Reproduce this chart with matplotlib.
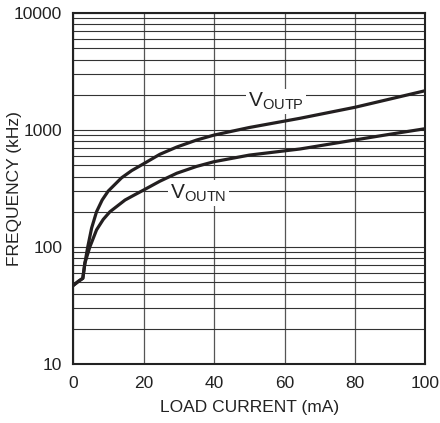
import matplotlib
matplotlib.use("Agg")
import matplotlib.pyplot as plt
from matplotlib.ticker import LogLocator, NullFormatter

# load current (mA) vs oscillator frequency (kHz)
ioutp = [0, 1.5, 2.7, 3.3, 4.1, 5.2, 6.6, 8.2, 9.9, 13.7, 16.6, 20, 24.6,
         29.4, 35, 40, 50, 64.4, 80, 90, 100]
foutp = [47, 51, 54, 73, 100, 145, 200, 252, 300, 390, 450, 515, 620,
         715, 820, 905, 1050, 1259, 1563, 1840, 2167]

ioutn = [0, 1.5, 2.7, 3.3, 4.7, 6.6, 8.5, 10.4, 14.7, 17.5, 20, 24.6,
         29.4, 35, 40, 50, 64.4, 80, 90, 100]
foutn = [47, 51, 54, 73, 100, 140, 172, 200, 252, 280, 307, 365,
         427, 488, 536, 610, 688, 822, 920, 1026]

xticks = [0, 20, 40, 60, 80, 100]
yticks = [10, 100, 1000, 10000]
ylabels = ["10", "100", "1000", "10000"]

fam = "Liberation Sans"
plt.rcParams["font.family"] = [fam, "DejaVu Sans"]
plt.rcParams["mathtext.fontset"] = "custom"
plt.rcParams["mathtext.rm"] = fam
plt.rcParams["mathtext.it"] = fam

fig = plt.figure(figsize=(4.4, 4.23), dpi=100)
ax = fig.add_axes([0.1666, 0.1395, 0.80, 0.8298])

ax.set_yscale("log")
ax.set_xlim(0, 100)
ax.set_ylim(10, 10000)
ax.set_xticks(xticks)
ax.set_yticks(yticks)
ax.set_yticklabels(ylabels)
ax.yaxis.set_minor_locator(LogLocator(base=10, subs=range(2, 10)))
ax.yaxis.set_minor_formatter(NullFormatter())
ax.tick_params(which="both", length=0, labelsize=12.5, colors="#222222")
ax.tick_params(axis="y", pad=8)
ax.tick_params(axis="x", pad=9)

ax.grid(which="major", axis="x", color="#555555", linewidth=0.9)
ax.grid(which="both", axis="y", color="#333333", linewidth=0.8)
ax.set_axisbelow(True)
for s in ax.spines.values():
    s.set_linewidth(1.5)
    s.set_color("#222222")

ax.plot(ioutp, foutp, color="#231f20", linewidth=2.3, solid_joinstyle="round")
ax.plot(ioutn, foutn, color="#231f20", linewidth=2.3, solid_joinstyle="round")

box = dict(facecolor="white", edgecolor="none", pad=1.5)
ax.text(57.6, 1581, r"V$_{\mathrm{OUTP}}$", fontsize=15, ha="center",
        va="baseline", color="#222222", bbox=box)
ax.text(35.5, 261, r"V$_{\mathrm{OUTN}}$", fontsize=15, ha="center",
        va="baseline", color="#222222", bbox=box)

ax.set_xlabel("LOAD CURRENT (mA)", fontsize=12.5, color="#222222")
ax.set_ylabel("FREQUENCY (kHz)", fontsize=12.5, color="#222222")
ax.xaxis.set_label_coords(0.5, -0.102)
ax.yaxis.set_label_coords(-0.166, 0.5)
ax.yaxis.label.set_va("center")

fig.savefig("out.png", dpi=100)
